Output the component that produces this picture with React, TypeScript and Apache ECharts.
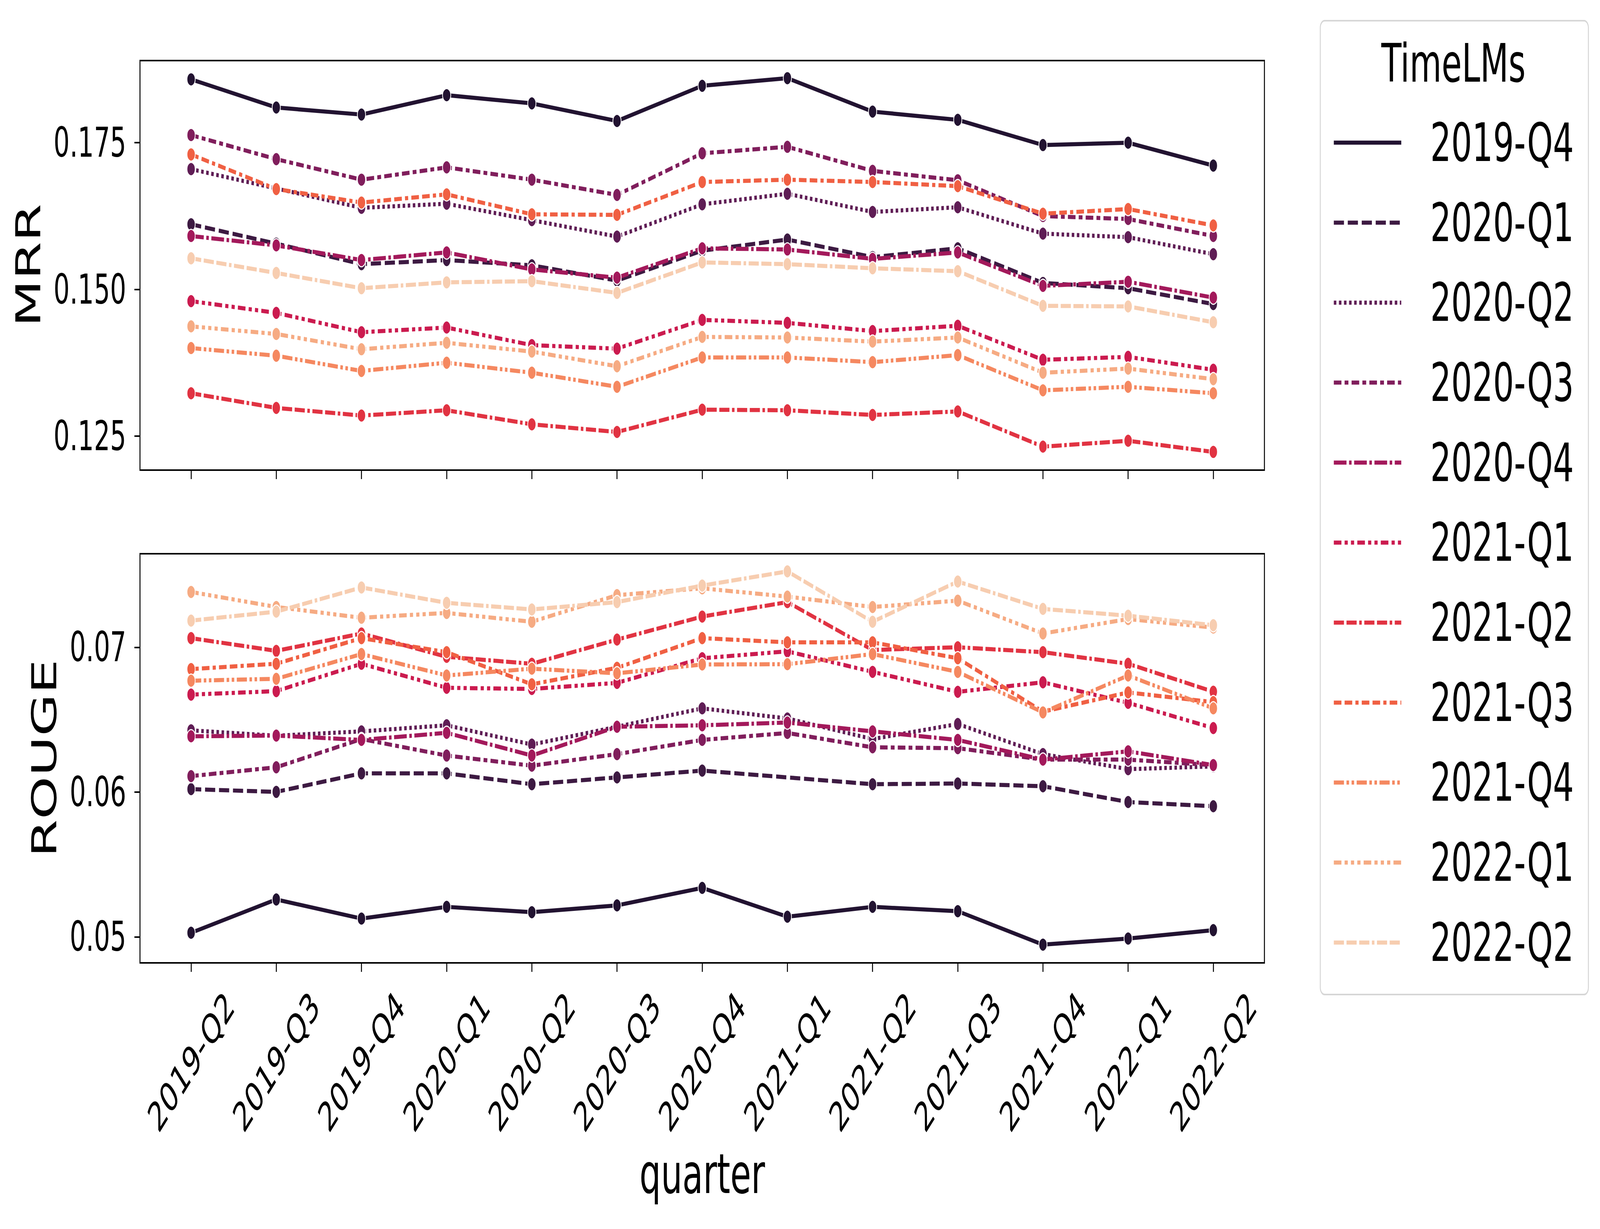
import React, { useEffect, useRef } from "react";
import * as echarts from "echarts";

const quarters = ["2019-Q2", "2019-Q3", "2019-Q4", "2020-Q1", "2020-Q2", "2020-Q3", "2020-Q4", "2021-Q1", "2021-Q2", "2021-Q3", "2021-Q4", "2022-Q1", "2022-Q2"];
const models = ["2019-Q4", "2020-Q1", "2020-Q2", "2020-Q3", "2020-Q4", "2021-Q1", "2021-Q2", "2021-Q3", "2021-Q4", "2022-Q1", "2022-Q2"];

const mrrTicks = [0.125, 0.15, 0.175];
const rougeTicks = [0.05, 0.06, 0.07];

const mrr2019Q4 = [0.1858, 0.1810, 0.1798, 0.1831, 0.1817, 0.1787, 0.1847, 0.1860, 0.1803, 0.1789, 0.1746, 0.1750, 0.1711];
const mrr2020Q1 = [0.1611, 0.1578, 0.1543, 0.1550, 0.1541, 0.1515, 0.1566, 0.1585, 0.1555, 0.1570, 0.1511, 0.1502, 0.1475];
const mrr2020Q2 = [0.1705, 0.1672, 0.1639, 0.1646, 0.1618, 0.1590, 0.1645, 0.1663, 0.1632, 0.1640, 0.1595, 0.1589, 0.1560];
const mrr2020Q3 = [0.1763, 0.1722, 0.1687, 0.1708, 0.1687, 0.1661, 0.1732, 0.1743, 0.1702, 0.1686, 0.1625, 0.1620, 0.1591];
const mrr2020Q4 = [0.1591, 0.1575, 0.1550, 0.1563, 0.1534, 0.1520, 0.1570, 0.1568, 0.1552, 0.1563, 0.1506, 0.1513, 0.1486];
const mrr2021Q1 = [0.1480, 0.1460, 0.1427, 0.1435, 0.1405, 0.1399, 0.1448, 0.1443, 0.1429, 0.1438, 0.1380, 0.1385, 0.1363];
const mrr2021Q2 = [0.1323, 0.1298, 0.1285, 0.1294, 0.1270, 0.1257, 0.1295, 0.1294, 0.1286, 0.1292, 0.1232, 0.1242, 0.1223];
const mrr2021Q3 = [0.1730, 0.1671, 0.1648, 0.1662, 0.1628, 0.1627, 0.1683, 0.1687, 0.1683, 0.1676, 0.1629, 0.1637, 0.1609];
const mrr2021Q4 = [0.1400, 0.1387, 0.1361, 0.1375, 0.1358, 0.1334, 0.1384, 0.1384, 0.1376, 0.1388, 0.1328, 0.1334, 0.1323];
const mrr2022Q1 = [0.1437, 0.1424, 0.1398, 0.1409, 0.1394, 0.1369, 0.1419, 0.1418, 0.1411, 0.1418, 0.1358, 0.1365, 0.1347];
const mrr2022Q2 = [0.1553, 0.1528, 0.1502, 0.1512, 0.1514, 0.1494, 0.1546, 0.1543, 0.1536, 0.1531, 0.1472, 0.1471, 0.1444];

const rouge2019Q4 = [0.05028, 0.05258, 0.05126, 0.05207, 0.05170, 0.05217, 0.05338, 0.05139, 0.05207, 0.05177, 0.04946, 0.04988, 0.05046];
const rouge2020Q1 = [0.06020, 0.06001, 0.06129, 0.06129, 0.06054, 0.06101, 0.06148, null, 0.06054, 0.06059, 0.06040, 0.05931, 0.05902];
const rouge2020Q2 = [0.06426, 0.06389, 0.06419, 0.06461, 0.06328, 0.06451, 0.06578, 0.06508, 0.06366, 0.06470, 0.06262, 0.06158, 0.06177];
const rouge2020Q3 = [0.06110, 0.06171, 0.06366, 0.06252, 0.06182, 0.06262, 0.06360, 0.06408, 0.06309, 0.06303, 0.06224, 0.06224, 0.06186];
const rouge2020Q4 = [0.06385, 0.06390, 0.06360, 0.06409, 0.06252, 0.06451, 0.06461, 0.06480, 0.06419, 0.06360, 0.06224, 0.06281, 0.06186];
const rouge2021Q1 = [0.06673, 0.06697, 0.06886, 0.06720, 0.06712, 0.06754, 0.06924, 0.06972, 0.06830, 0.06692, 0.06758, 0.06616, 0.06442];
const rouge2021Q2 = [0.07063, 0.06975, 0.07095, 0.06934, 0.06886, 0.07053, 0.07212, 0.07312, 0.06981, 0.07000, 0.06966, 0.06886, 0.06693];
const rouge2021Q3 = [0.06849, 0.06886, 0.07063, 0.06966, 0.06744, 0.06858, 0.07063, 0.07034, 0.07034, 0.06924, 0.06555, 0.06688, 0.06621];
const rouge2021Q4 = [0.06769, 0.06782, 0.06953, 0.06805, 0.06852, 0.06820, 0.06881, 0.06883, 0.06953, 0.06830, 0.06550, 0.06805, 0.06578];
const rouge2022Q1 = [0.07382, 0.07278, 0.07204, 0.07237, 0.07176, 0.07360, 0.07407, 0.07350, 0.07278, 0.07322, 0.07095, 0.07195, 0.07136];
const rouge2022Q2 = [0.07184, 0.07246, 0.07413, 0.07307, 0.07261, 0.07312, 0.07426, 0.07524, 0.07176, 0.07454, 0.07265, 0.07218, 0.07152];

const mrrSeries = [mrr2019Q4, mrr2020Q1, mrr2020Q2, mrr2020Q3, mrr2020Q4, mrr2021Q1, mrr2021Q2, mrr2021Q3, mrr2021Q4, mrr2022Q1, mrr2022Q2];
const rougeSeries = [rouge2019Q4, rouge2020Q1, rouge2020Q2, rouge2020Q3, rouge2020Q4, rouge2021Q1, rouge2021Q2, rouge2021Q3, rouge2021Q4, rouge2022Q1, rouge2022Q2];

// styles
const colors = ["#221331", "#3d1a42", "#5f1d55", "#801e5c", "#a3195b", "#cb1b4f", "#e13342", "#f06043", "#f58860", "#f6ab83", "#f7cdb0"];
const LW = 10.5;
const dashSpecs: (number[] | null)[] = [
  null,
  [4, 1.5],
  [1, 1],
  [3, 1.25, 1.5, 1.25],
  [5, 1, 1, 1],
  [3, 1.25, 1.25, 1.25, 1.25, 1.25],
  [4, 1, 4, 1, 1, 1],
  [3, 1.25, 3, 1.25, 1.25, 1.25],
  [4, 1, 1, 1, 1, 1],
  [3, 1.25, 1.25, 1.25, 1.25, 1.25, 1.25, 1.25],
  [4, 1, 4, 1, 4, 1, 1, 1],
];
const dashPx = dashSpecs.map((d) => (d ? d.map((v) => v * LW) : null));

const FONT = "DejaVu Sans";
const DESIGN_W = 6618;
const DESIGN_H = 3145;

export default function App() {
  const ref = useRef<HTMLDivElement>(null);
  const vw = typeof window !== "undefined" ? window.innerWidth : DESIGN_W;
  const vh = typeof window !== "undefined" ? window.innerHeight : DESIGN_H;
  const sx = Math.min(1, vw / DESIGN_W);
  const sy = Math.min(1, vh / DESIGN_H);

  useEffect(() => {
    document.body.style.margin = "0";
    document.body.style.overflow = "hidden";
    document.documentElement.style.overflow = "hidden";
    const chart = echarts.init(ref.current!, null, { renderer: "svg" });

    const xIdx = quarters.map((_, i) => i);
    const gridL = 579;
    const gridW = 4651;

    const mkX = (gi: number, showLabels: boolean, name?: string) => ({
      type: "value",
      gridIndex: gi,
      min: -0.6,
      max: 12.6,
      splitLine: { show: false },
      axisLine: { show: false, onZero: false },
      axisTick: { show: true, customValues: xIdx, length: 23, lineStyle: { color: "#000", width: 4 } },
      axisLabel: {
        show: showLabels,
        customValues: xIdx,
        rotate: 45,
        align: "center",
        verticalAlign: "middle",
        margin: 253,
        fontSize: 104,
        fontFamily: FONT,
        color: "#000",
        formatter: (v: number) => quarters[Math.round(v)] ?? "",
      },
      name: name,
      nameLocation: "middle",
      nameGap: 470,
      nameTextStyle: { fontSize: 140, fontFamily: FONT, color: "#000" },
    });

    const mkY = (gi: number, min: number, max: number, ticks: number[], digits: number, name: string, gap: number) => ({
      type: "value",
      gridIndex: gi,
      min,
      max,
      splitLine: { show: false },
      axisLine: { show: false, onZero: false },
      axisTick: { show: true, customValues: ticks, length: 23, lineStyle: { color: "#000", width: 4 } },
      axisLabel: {
        customValues: ticks,
        margin: 57,
        fontSize: 105,
        fontFamily: FONT,
        color: "#000",
        formatter: (v: number) => v.toFixed(digits),
      },
      name,
      nameLocation: "middle",
      nameGap: gap,
      nameTextStyle: { fontSize: 140, fontFamily: FONT, color: "#000" },
    });

    const series: any[] = [];
    [mrrSeries, rougeSeries].forEach((group, gi) => {
      group.forEach((vals, i) => {
        series.push({
          type: "line",
          name: models[i],
          xAxisIndex: gi,
          yAxisIndex: gi,
          data: vals.map((v, k) => [k, v]),
          connectNulls: true,
          symbol: "circle",
          symbolSize: 34,
          showAllSymbol: true,
          itemStyle: { color: colors[i], borderColor: "#ffffff", borderWidth: 3 },
          lineStyle: { color: colors[i], width: LW, type: dashPx[i] ?? "solid", cap: "butt" },
          emphasis: { disabled: true },
          z: 2,
        });
      });
    });

    const legendEls: any[] = [];
    legendEls.push({
      type: "rect",
      shape: { x: 5461, y: 53, width: 1109, height: 2492, r: 18 },
      style: { fill: "#ffffff", stroke: "#d6d6d6", lineWidth: 4 },
    });
    legendEls.push({
      type: "text",
      x: 6012,
      y: 162,
      style: { text: "TimeLMs", fontSize: 136, fontFamily: FONT, fill: "#000", align: "center", verticalAlign: "middle" },
    });
    models.forEach((m, i) => {
      const y = 365 + i * 204.7;
      legendEls.push({
        type: "line",
        shape: { x1: 5517, y1: y, x2: 5796, y2: y },
        style: { stroke: colors[i], lineWidth: LW, lineDash: dashPx[i] ?? null, lineCap: "butt" },
      });
      legendEls.push({
        type: "text",
        x: 5916,
        y: y,
        style: { text: m, fontSize: 136, fontFamily: FONT, fill: "#000", align: "left", verticalAlign: "middle" },
      });
    });

    chart.setOption({
      animation: false,
      backgroundColor: "#ffffff",
      textStyle: { fontFamily: FONT },
      grid: [
        { left: gridL, top: 155, width: gridW, height: 1048, show: true, borderColor: "#000", borderWidth: 4, backgroundColor: "transparent" },
        { left: gridL, top: 1417, width: gridW, height: 1047, show: true, borderColor: "#000", borderWidth: 4, backgroundColor: "transparent" },
      ],
      xAxis: [mkX(0, false), mkX(1, true, "quarter")],
      yAxis: [
        mkY(0, 0.1192, 0.189, mrrTicks, 3, "MRR", 392),
        mkY(1, 0.0482, 0.07646, rougeTicks, 2, "ROUGE", 325),
      ],
      series,
      graphic: { elements: legendEls },
    });
    return () => chart.dispose();
  }, []);

  return (
    <div style={{ width: DESIGN_W * sx, height: DESIGN_H * sy, overflow: "hidden", background: "#ffffff" }}>
      <div
        ref={ref}
        style={{ width: DESIGN_W, height: DESIGN_H, transform: `scale(${sx}, ${sy})`, transformOrigin: "0 0" }}
      />
    </div>
  );
}
